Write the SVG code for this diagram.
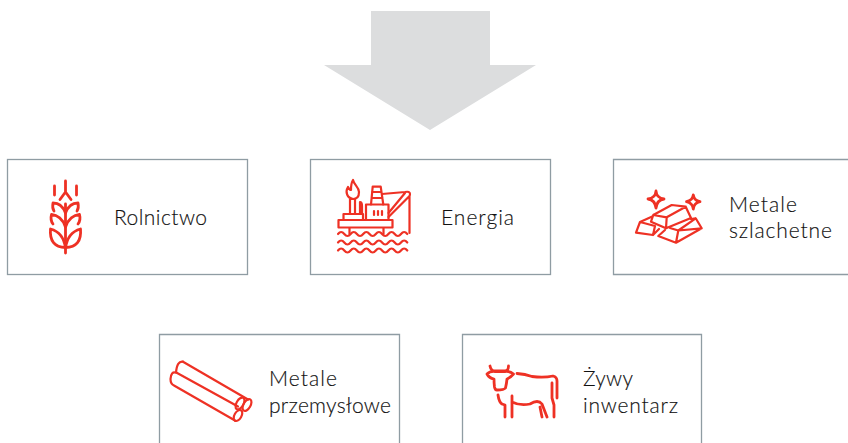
<svg xmlns="http://www.w3.org/2000/svg" width="848" height="443" viewBox="0 0 848 443">
<style>
.box{fill:#fff;stroke:#8f9ca3;stroke-width:1.3}
.ic{fill:none;stroke:#ee3124;stroke-width:2.200;stroke-linecap:round;stroke-linejoin:round}
.th{stroke-width:2.800}
text{font-family:"Lato","Liberation Sans",sans-serif;font-size:21px;font-weight:300;fill:#111;stroke:#111;stroke-width:.15}
</style>
<rect width="848" height="443" fill="#fff"/>
<polygon id="arrow" points="371,11 490,11 490,65 536,65 430,130 324,65 371,65" fill="#dcddde"/>
<g id="rolnictwo">
<rect class="box" x="7.500" y="159.500" width="240" height="115"/>
<g class="ic th">
<path d="M65.500 181V192M65.500 192L60 199.500M65.500 192L71 199.500M54.500 186V195M76.500 186V195M65.500 253V204"/>
<path d="M65.500 213C63 206 58 203 53 203Q52 208 54 211M65.500 213C68 206 73 203 78 203Q79 208 77 211"/>
<path d="M65.500 227C63 219 57 215 51.500 214.500Q50 220 53 224M65.500 227C68 219 74 215 79.500 214.500Q81 220 78 224"/>
<path d="M65.500 248C64 237 58 231 50.500 229Q49 247 65.500 247.500Q82 247 80.500 229C73 231 67 237 65.500 248"/>
</g>
<text x="114" y="225" textLength="93">Rolnictwo</text>
</g>
<g id="energia">
<rect class="box" x="310.500" y="159.500" width="240" height="115"/>
<g class="ic">
<path d="M338.500 220H392.500V227.500H338.500ZM349.500 227.500V234M383.500 227.500V234M343.500 220V214H363V220M366 220V204.500H388.500V220"/>
<path d="M371 204.500L372.700 186.700H380.700L383.300 204.500M372 192H381.500M371.500 198H382.500M374 211V215M378 211V215M382 211V215"/>
<path d="M350 214V199M355 214V199M360 214V202Q362 202 362 206V214M353 199C347 198 345 192 348 187C349 189 350 190 351 190C351 186 351 183 353 180C354 185 359 187 359 192C359 196 357 199 353 199Z"/>
<path d="M388.500 213L405 193M388.500 217L409 196.500M382 194L405 192Q410 191 410 194Q410 196 409 196.500M409.500 196V233"/>
<path d="M338 234q3.150 -4 6.300 0t6.300 0t6.300 0t6.300 0t6.300 0t6.300 0t6.300 0t6.300 0t6.300 0t6.300 0t6.300 0"/>
<path d="M338 242.500q3.150 -4 6.300 0t6.300 0t6.300 0t6.300 0t6.300 0t6.300 0t6.300 0t6.300 0t6.300 0t6.300 0t6.300 0"/>
<path d="M338 250.500q3.150 -4 6.300 0t6.300 0t6.300 0t6.300 0t6.300 0t6.300 0t6.300 0t6.300 0t6.300 0t6.300 0t6.300 0"/>
</g>
<text x="441" y="225" textLength="73">Energia</text>
</g>
<g id="metale-szlachetne">
<path class="box" d="M848 159.500H613.500V274.500H848"/>
<g class="ic th">
<path d="M656 191Q656.500 198 664 199Q657 200 656 208Q655 200 648 199Q655.500 198 656 191ZM693.300 195Q694 200.500 700 201.700Q694 203 693.300 209Q692.500 203 686.500 201.700Q692.500 200.500 693.300 195Z"/>
</g>
<g class="ic">
<path d="M653.300 215L671.700 205L685.700 206.700L666.700 217.300ZM653.300 215L651 221.700L666 228.300L666.700 217.300M685.700 206.700L691 218L666 228.300"/>
<path d="M651.700 216.700L640 222L636 232.700L653 235L655 226L640 222M653 235L659 229"/>
<path d="M665 230L658.300 236L676 242.700L701.700 228.300L695.700 218.300L691 219M676 242.700L678.300 230.500L701.700 228.300M678.300 230.500L695.700 218.300M670 228L678.300 230.500"/>
</g>
<text x="729" y="212" textLength="68">Metale</text><text x="729" y="238" textLength="103">szlachetne</text>
</g>
<g id="metale-przemyslowe">
<path class="box" d="M159.500 443V334.500H399.500V443"/>
<g class="ic">
<path d="M183 361.700L248 399.500M176.700 372.700L238 406.500" />
<path d="M183 361.700Q177 360.500 176 372.700Q171 371 170.500 379Q170.500 384 174 385.500L235 420.500"/>
<ellipse cx="240" cy="403.500" rx="3.500" ry="6.500" transform="rotate(30 240 403.500)"/>
<ellipse cx="247" cy="405" rx="3.500" ry="6.500" transform="rotate(30 247 405)"/>
<ellipse cx="238" cy="415.500" rx="3.500" ry="6" transform="rotate(30 238 415.500)"/>
</g>
<text x="269" y="386" textLength="68">Metale</text><text x="269" y="413" textLength="122">przemysłowe</text>
</g>
<g id="zywy-inwentarz">
<path class="box" d="M462.500 443V334.500H701.500V443"/>
<g class="ic th">
<path d="M490 366Q491 371 495 371H505Q508.500 371 508.500 366M487 374Q490 371 495 371.500H505Q510 371 513.500 374Q510 378 507 379Q506.500 384 505.500 388Q504 390 497 390Q495 390 494.500 387Q494 383 494 379Q489 378 487 374Z"/>
<path d="M517 373.500Q525 374 532 376.500Q544 378 553 376Q557 377 557 381V398M552 383V398L554 405V417M498 395Q499 402 502 404L505 405V417M512 396V417M512 402Q520 406 530 404Q538 399 542 404L547 417M540 407L542 417"/>
</g>
<text x="583" y="386" textLength="50">Żywy</text><text x="583" y="413" textLength="95">inwentarz</text>
</g>
</svg>
